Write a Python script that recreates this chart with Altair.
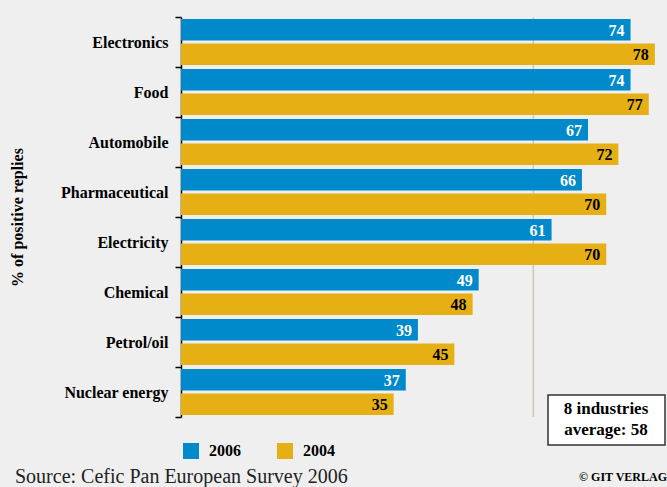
import altair as alt
import pandas as pd

industries = ["Electronics", "Food", "Automobile", "Pharmaceutical",
              "Electricity", "Chemical", "Petrol/oil", "Nuclear energy"]
values_2006 = [74, 74, 67, 66, 61, 49, 39, 37]
values_2004 = [78, 77, 72, 70, 70, 48, 45, 35]
years = ["2006", "2004"]
average = 58

rows = []
for i, ind in enumerate(industries):
    rows.append({"industry": ind, "year": "2006", "pct": values_2006[i]})
    rows.append({"industry": ind, "year": "2004", "pct": values_2004[i]})
df = pd.DataFrame(rows)
avg_df = pd.DataFrame([{"avg": average}])

BLUE = "#0089cb"
GOLD = "#e6af14"
F = "Liberation Sans Narrow"

xscale = alt.Scale(domain=[0, 80], nice=False)

base = alt.Chart(df).encode(
    y=alt.Y("industry:N", sort=None,
            scale=alt.Scale(paddingInner=0, paddingOuter=0),
            axis=alt.Axis(title="% of positive replies", domainColor="black", domainWidth=1.5,
                          tickColor="black", tickWidth=1.5, tickSize=6, tickBand="extent",
                          labelFont=F, labelFontSize=16, labelFontWeight="bold",
                          labelColor="black", labelPadding=7,
                          titleFont=F, titleFontSize=16, titleFontWeight="bold",
                          titleColor="black", titleX=-156, titleY=200)),
    yOffset=alt.YOffset("year:N", sort=None,
                        scale=alt.Scale(paddingInner=0.12, paddingOuter=0.08)),
    x=alt.X("pct:Q", scale=xscale, axis=None),
)

bars = base.mark_bar().encode(
    color=alt.Color("year:N",
                    scale=alt.Scale(domain=years, range=[BLUE, GOLD]),
                    legend=alt.Legend(title=None, orient="none", legendX=1, legendY=425,
                                      direction="horizontal", symbolType="square",
                                      symbolSize=256,
                                      labelFont=F, labelFontSize=16, labelFontWeight="bold",
                                      labelColor="black", labelOffset=9, columnPadding=35))
)

labels = base.mark_text(align="right", baseline="middle", dx=-6, dy=1, font=F,
                        fontSize=16, fontWeight="bold").encode(
    text=alt.Text("pct:Q"),
    color=alt.condition(alt.datum.year == "2006", alt.value("white"), alt.value("black")),
)

rule = alt.Chart(avg_df).mark_rule(color="#cfc8bc", strokeWidth=1.5).encode(
    x=alt.X("avg:Q", scale=xscale, axis=None)
)

ann = alt.Chart(avg_df)
box = ann.mark_rect(fill="white", stroke="#333333", strokeWidth=1.5).encode(
    x=alt.value(367), x2=alt.value(484), y=alt.value(378), y2=alt.value(428)
)
boxtext1 = ann.mark_text(text="8 industries", font=F, fontSize=17, fontWeight="bold",
                         color="black", align="center", baseline="middle").encode(
    x=alt.value(425), y=alt.value(392)
)
boxtext2 = ann.mark_text(text=f"average: {average}", font=F, fontSize=17, fontWeight="bold",
                         color="black", align="center", baseline="middle").encode(
    x=alt.value(425), y=alt.value(413)
)
source = ann.mark_text(text="Source: Cefic Pan European Survey 2006",
                       font="Liberation Serif", fontSize=20,
                       color="#222222", align="left", baseline="alphabetic").encode(
    x=alt.value(-166), y=alt.value(466)
)
copyright = ann.mark_text(text="© GIT VERLAG", font=F, fontSize=12,
                          fontWeight="bold", color="black", align="right",
                          baseline="alphabetic").encode(
    x=alt.value(486), y=alt.value(464)
)

chart = alt.layer(rule, bars, labels, box, boxtext1, boxtext2, source, copyright).properties(
    width=486, height=400,
    padding={"left": 181, "top": 17, "right": 0, "bottom": 70},
    autosize="none", background="#efefef",
).configure_view(strokeWidth=0)

chart.save("out.html", embed_options={"renderer": "svg", "actions": False})
